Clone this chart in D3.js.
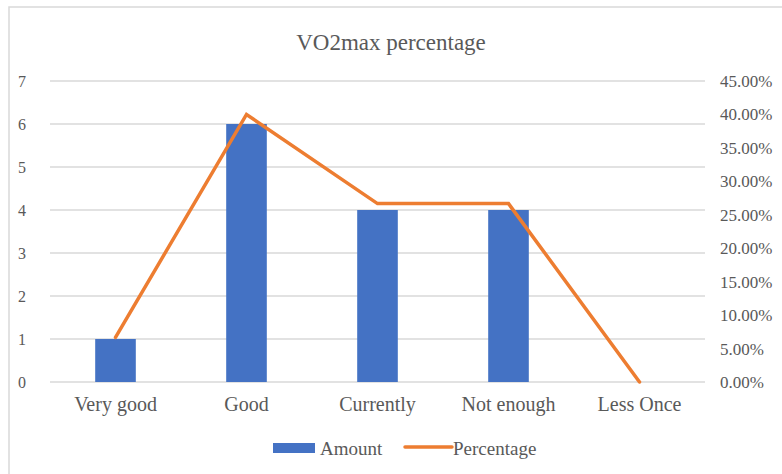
<!DOCTYPE html>
<html>
<head>
<meta charset="utf-8">
<script src="https://cdn.jsdelivr.net/npm/d3@7"></script>
<style>
html,body{margin:0;padding:0;background:#fff;}
svg{display:block;}
</style>
</head>
<body>
<svg id="chart" width="782" height="474"></svg>
<script>
const categories = ["Very good", "Good", "Currently", "Not enough", "Less Once"];
const amountValues = [1, 6, 4, 4, 0];
const percentageValues = [0.0667, 0.40, 0.2667, 0.2667, 0.0];
const leftTicks = [0, 1, 2, 3, 4, 5, 6, 7];
const rightTicks = [0, 0.05, 0.10, 0.15, 0.20, 0.25, 0.30, 0.35, 0.40, 0.45];
const seriesNames = ["Amount", "Percentage"];
const titleText = "VO2max percentage";

const FONT = "Liberation Serif";
const TXT = "#595959";
const svg = d3.select("#chart");
const plot = {left: 50, right: 705, top: 81, bottom: 382};

svg.append("rect").attr("x", 9).attr("y", 7).attr("width", 800).attr("height", 500)
  .attr("fill", "#fff").attr("stroke", "#d9d9d9").attr("stroke-width", 1.5);

const x = d3.scaleBand().domain(categories).range([plot.left, plot.right]).paddingInner(0.69).paddingOuter(0.345);
const yL = d3.scaleLinear().domain([0, 7]).range([plot.bottom, plot.top]);
const yR = d3.scaleLinear().domain([0, 0.45]).range([plot.bottom, plot.top]);

// gridlines
svg.append("g").selectAll("line").data(leftTicks).join("line")
  .attr("x1", plot.left).attr("x2", plot.right)
  .attr("y1", d => yL(d)).attr("y2", d => yL(d))
  .attr("stroke", "#d9d9d9").attr("stroke-width", 1.3);

// left axis
const axL = svg.append("g").attr("transform", `translate(${plot.left},0)`)
  .call(d3.axisLeft(yL).tickValues(leftTicks).tickSize(0).tickPadding(24).tickFormat(d3.format("d")));
axL.select(".domain").remove();
axL.attr("font-family", FONT);
axL.selectAll("text").style("font-family", FONT).style("font-size", "16px").style("fill", TXT);

// right axis
const axR = svg.append("g").attr("transform", `translate(${plot.right},0)`)
  .call(d3.axisRight(yR).tickValues(rightTicks).tickSize(0).tickPadding(15).tickFormat(d3.format(".2%")));
axR.select(".domain").remove();
axR.attr("font-family", FONT);
axR.selectAll("text").style("font-family", FONT).style("font-size", "17px").style("fill", TXT);

// bottom axis
const axB = svg.append("g").attr("transform", `translate(0,${plot.bottom})`)
  .call(d3.axisBottom(x).tickSize(0).tickPadding(15));
axB.select(".domain").remove();
axB.attr("font-family", FONT);
axB.selectAll("text").style("font-family", FONT).style("font-size", "20px").style("fill", TXT);

// bars
svg.append("g").selectAll("rect").data(amountValues).join("rect")
  .attr("x", (d, i) => x(categories[i]))
  .attr("width", x.bandwidth())
  .attr("y", d => yL(d))
  .attr("height", d => yL(0) - yL(d))
  .attr("fill", "#4472C4");

// line
const line = d3.line().x((d, i) => x(categories[i]) + x.bandwidth() / 2).y(d => yR(d));
svg.append("path").datum(percentageValues).attr("d", line)
  .attr("fill", "none").attr("stroke", "#ED7D31").attr("stroke-width", 3.5)
  .attr("stroke-linejoin", "miter").attr("stroke-linecap", "round");

// title
svg.append("text").attr("x", 391).attr("y", 50).attr("text-anchor", "middle")
  .style("font-family", FONT).style("font-size", "23px").style("fill", TXT).text(titleText);

// legend
const lg = svg.append("g");
lg.append("rect").attr("x", 273).attr("y", 443).attr("width", 42).attr("height", 10).attr("fill", "#4472C4");
lg.append("text").attr("x", 320).attr("y", 455)
  .style("font-family", FONT).style("font-size", "19px").style("fill", TXT).text(seriesNames[0]);
lg.append("line").attr("x1", 405).attr("x2", 452).attr("y1", 447).attr("y2", 447)
  .attr("stroke", "#ED7D31").attr("stroke-width", 3.5).attr("stroke-linecap", "round");
lg.append("text").attr("x", 453).attr("y", 455)
  .style("font-family", FONT).style("font-size", "19px").style("fill", TXT).text(seriesNames[1]);
</script>
</body>
</html>
